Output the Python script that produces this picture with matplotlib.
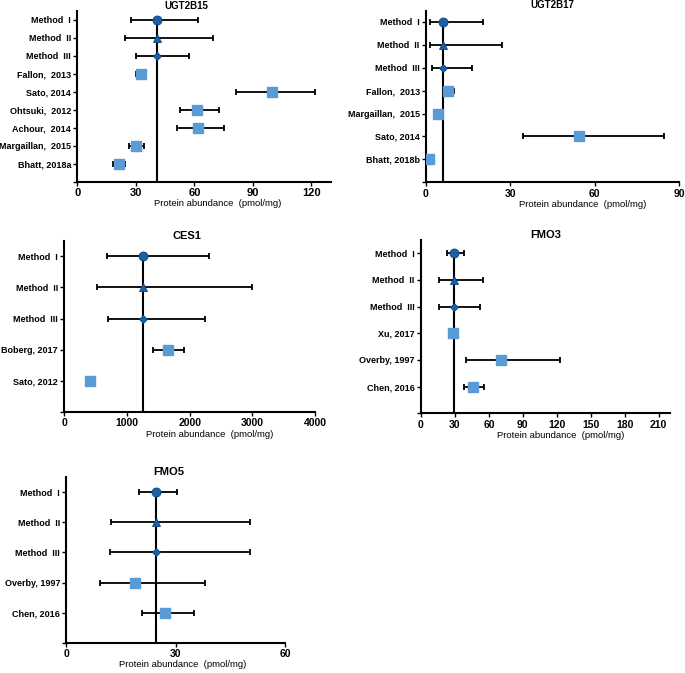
import numpy as np
import matplotlib
matplotlib.use("Agg")
from matplotlib import pyplot as plt

plt.rcParams['font.family'] = ['Liberation Sans', 'DejaVu Sans']

# ---- data (mean, lower, upper) ----
ugt2b15_labels = ["Method  I", "Method  II", "Method  III", "Fallon,  2013", "Sato, 2014",
                  "Ohtsuki,  2012", "Achour,  2014", "Margaillan,  2015", "Bhatt, 2018a"]
ugt2b15_mean = [41, 41, 41, 32.6, 99.6, 61.5, 62, 30.3, 21.2]
ugt2b15_low = [27.7, 24.5, 29.9, 29.9, 81.2, 52.4, 51, 26.5, 18.4]
ugt2b15_high = [61.7, 69.3, 57.1, 35, 121.7, 72.4, 75.1, 34.3, 24.5]
ugt2b15_pooled = 41

ugt2b17_labels = ["Method  I", "Method  II", "Method  III", "Fallon,  2013",
                  "Margaillan,  2015", "Sato, 2014", "Bhatt, 2018b"]
ugt2b17_mean = [5.9, 5.9, 5.9, 7.7, 4.1, 54.2, 1.2]
ugt2b17_low = [1.5, 1.3, 2.1, 5.9, 3.0, 34.5, 1.2]
ugt2b17_high = [20.4, 27.1, 16.3, 10.1, 6.2, 84.7, 1.2]
ugt2b17_pooled = 5.9

ces1_labels = ["Method  I", "Method  II", "Method  III", "Boberg, 2017", "Sato, 2012"]
ces1_mean = [1255, 1255, 1255, 1649, 410]
ces1_low = [675, 516, 691, 1410, 346]
ces1_high = [2309, 3000, 2239, 1915, 484]
ces1_pooled = 1255

fmo3_labels = ["Method  I", "Method  II", "Method  III", "Xu, 2017", "Overby, 1997", "Chen, 2016"]
fmo3_mean = [29.5, 29.5, 29.5, 28.3, 70.5, 46]
fmo3_low = [23.3, 15.9, 16.2, 28.3, 39.8, 38]
fmo3_high = [38, 55.2, 52.2, 28.3, 122.4, 55.7]
fmo3_pooled = 29.5

fmo5_labels = ["Method  I", "Method  II", "Method  III", "Overby, 1997", "Chen, 2016"]
fmo5_mean = [24.5, 24.5, 24.5, 18.8, 27]
fmo5_low = [19.9, 12.2, 12, 9.2, 20.9]
fmo5_high = [30.4, 50.3, 50.3, 38, 35.1]
fmo5_pooled = 24.5

dark = '#1a5fa8'
light = '#5b9bd5'

W, H = 685, 673
fig = plt.figure(figsize=(6.85, 6.73), dpi=100)


def panel(box, title, labels, mean, low, high, pooled, xmax, xticks,
          tx=0.5, lx=0.55, tfs=8, xfs=7.5):
    l, r, t, b = box
    ax = fig.add_axes([l / W, 1 - b / H, (r - l) / W, (b - t) / H])
    n = len(labels)
    y = np.arange(n)
    mean = np.array(mean, float)
    err = [mean - np.array(low), np.array(high) - mean]
    ax.vlines(pooled, 0, n, color='black', lw=1.5, zorder=1)
    ax.errorbar(mean, y, xerr=err, fmt='none', ecolor='black', elinewidth=1.3,
                capsize=2, capthick=1.3, zorder=2)
    styles = [('o', 6.5), ('^', 6.3), ('D', 4.2)]
    for i in range(n):
        if i < 3:
            m, s = styles[i]
            ax.plot(mean[i], y[i], m, ms=s, color=dark, mec='#10457e', mew=0.6, zorder=3)
        else:
            ax.plot(mean[i], y[i], 's', ms=6.5, color=light, mec=light, zorder=3)
    ax.set_ylim(n, -0.5)
    ax.set_xlim(0, xmax)
    ax.set_yticks(list(y) + [n])
    ax.set_yticklabels(labels + [''], fontsize=6.5, fontweight='bold')
    ax.set_xticks(xticks)
    ax.set_xticklabels([str(v) for v in xticks], fontsize=xfs, fontweight='bold')
    for s in ['top', 'right']:
        ax.spines[s].set_visible(False)
    for s in ['left', 'bottom']:
        ax.spines[s].set_linewidth(1.5)
    ax.tick_params(length=3, width=1, pad=1.5)
    ax.set_title(title, fontsize=tfs, fontweight='bold', pad=1, x=tx)
    ax.set_xlabel("Protein abundance  (pmol/mg)", fontsize=6.8, labelpad=1, x=lx)
    return ax


panel((77.3, 331, 11, 181.7), "UGT2B15", ugt2b15_labels, ugt2b15_mean, ugt2b15_low,
      ugt2b15_high, ugt2b15_pooled, 130, [0, 30, 60, 90, 120], tx=0.43, lx=0.555,
      tfs=7, xfs=8)
panel((426, 679.3, 10.5, 182.3), "UGT2B17", ugt2b17_labels, ugt2b17_mean, ugt2b17_low,
      ugt2b17_high, ugt2b17_pooled, 90, [0, 30, 60, 90], tx=0.5, lx=0.62, tfs=7)
panel((64.3, 315, 240.7, 412), "CES1", ces1_labels, ces1_mean, ces1_low,
      ces1_high, ces1_pooled, 4000, [0, 1000, 2000, 3000, 4000], tx=0.49, lx=0.58)
panel((421, 670, 240, 413.3), "FMO3", fmo3_labels, fmo3_mean, fmo3_low,
      fmo3_high, fmo3_pooled, 220, [0, 30, 60, 90, 120, 150, 180, 210], tx=0.5, lx=0.56)
panel((66.3, 285, 477.3, 642.7), "FMO5", fmo5_labels, fmo5_mean, fmo5_low,
      fmo5_high, fmo5_pooled, 60, [0, 30, 60], tx=0.47, lx=0.53)

fig.savefig("out.png", dpi=100)
